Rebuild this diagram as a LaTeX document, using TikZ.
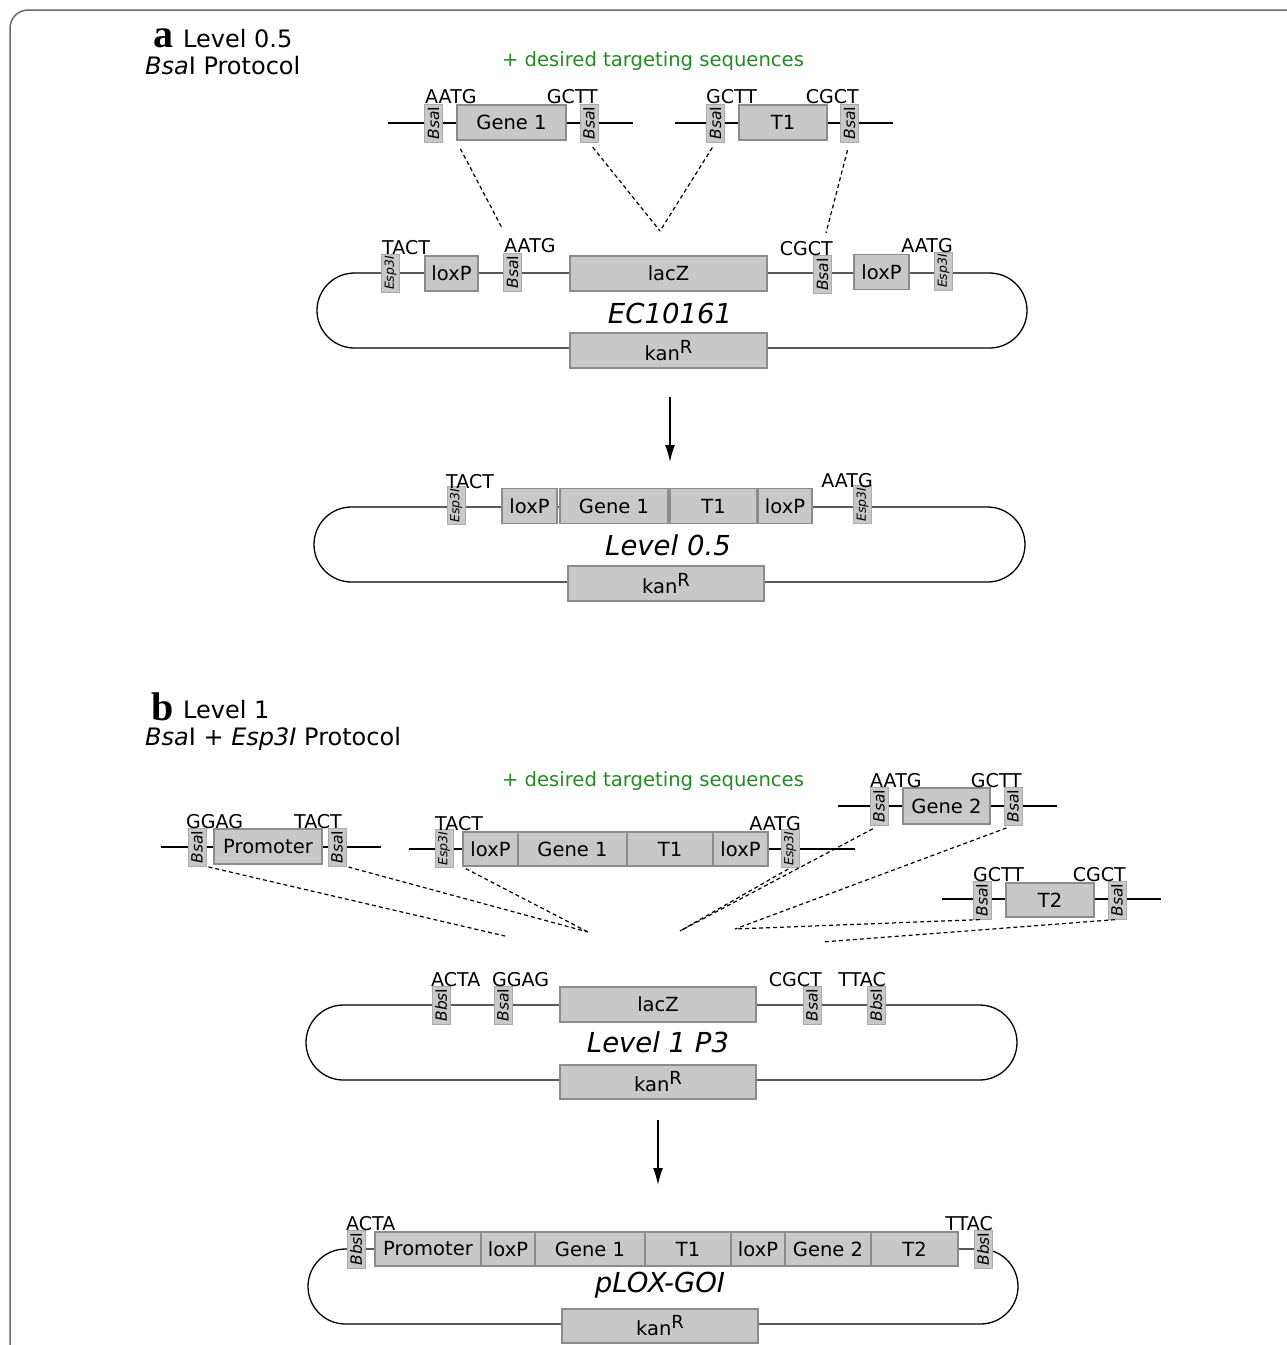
\documentclass[tikz,border=0pt]{standalone}
\usepackage{fontspec}
\setmainfont{DejaVu Sans}
\newfontfamily\panelfont{Liberation Serif}
\usetikzlibrary{arrows.meta}
\definecolor{boxfill}{HTML}{C8C8C8}
\definecolor{boxline}{HTML}{8C8C8C}
\definecolor{siteline}{HTML}{ABABAB}
\definecolor{seqgreen}{HTML}{228B22}
\definecolor{framegray}{HTML}{6A6A6A}
\tikzset{
  part/.style={draw=boxline, fill=boxfill, line width=1.6pt, minimum height=35pt, inner sep=0pt, font=\fontsize{19.5}{19.5}\selectfont},
  site/.style={draw=siteline, fill=boxfill, line width=1pt, minimum width=38pt, minimum height=18pt, inner sep=0pt, rotate=90, font=\fontsize{15.5}{15.5}\selectfont},
  espsite/.style={site, font=\fontsize{12.5}{12.5}\selectfont},
  ovh/.style={inner sep=0pt, font=\fontsize{19}{19}\selectfont},
  plname/.style={inner sep=0pt, font=\fontsize{27.5}{27.5}\selectfont\itshape},
  title/.style={inner sep=0pt, font=\fontsize{24}{24}\selectfont},
  panel/.style={inner sep=0pt, font=\fontsize{40}{40}\selectfont\panelfont\bfseries},
  greennote/.style={inner sep=0pt, seqgreen, font=\fontsize{19.6}{19.6}\selectfont},
  backbone/.style={line width=1.3pt},
  dashy/.style={line width=1.2pt, dash pattern=on 4pt off 3pt},
  pto/.style={-{Latex[length=17pt,width=10pt]}, line width=1.5pt}
}
\newcommand{\bsa}{\textit{Bsa}I}
\newcommand{\esp}{\textit{Esp3I}}
\newcommand{\bbs}{\textit{Bbs}I}
\newcommand{\kanR}{kan\raisebox{7pt}{\fontsize{18}{18}\selectfont R}}

\begin{document}
\begin{tikzpicture}[x=1pt,y=-1pt]
  \useasboundingbox (0,0) rectangle (1287,1345);
  \draw[framegray, line width=1.5pt, rounded corners=18pt] (1300,10) -- (10,10) -- (10,1360);

  %% panel a
  \node[panel, anchor=base west] (la) at (153,47) {a};
  \node[title, anchor=base west] (ta1) at (183,47) {Level 0.5};
  \node[title, anchor=base west] (ta2) at (145,74) {\bsa{} Protocol};
  \node[greennote] (ga) at (653,61) {+ desired targeting sequences};

  % fragment Gene 1
  \coordinate (f1l) at (388,123);
  \coordinate (f1r) at (633,123);
  \draw[backbone] (f1l) -- (f1r);
  \node[site] (f1s1) at (433.5,123) {\bsa};
  \node[part, minimum width=109pt] (f1g) at (511.5,122.5) {Gene 1};
  \node[site] (f1s2) at (589,123) {\bsa};
  \node[ovh, anchor=base west] (f1o1) at (425,103) {AATG};
  \node[ovh, anchor=base east] (f1o2) at (598,103) {GCTT};

  % fragment T1
  \coordinate (f2l) at (675,123);
  \coordinate (f2r) at (893,123);
  \draw[backbone] (f2l) -- (f2r);
  \node[site] (f2s1) at (715.5,123) {\bsa};
  \node[part, minimum width=88pt] (f2t) at (783,122.5) {T1};
  \node[site] (f2s2) at (849.5,123) {\bsa};
  \node[ovh, anchor=base west] (f2o1) at (706,103) {GCTT};
  \node[ovh, anchor=base east] (f2o2) at (859,103) {CGCT};

  % EC10161
  \coordinate (p1a) at (317,273);
  \coordinate (p1b) at (1027,348);
  \draw[backbone, rounded corners=37.5pt] (p1a) rectangle (p1b);
  \node[espsite] (p1e1) at (390.5,273) {\esp};
  \node[part, minimum width=53pt] (p1x1) at (451.5,273.5) {loxP};
  \node[site] (p1s1) at (512.5,272) {\bsa};
  \node[part, minimum width=197pt] (p1z) at (668.5,273.5) {lacZ};
  \node[site] (p1s2) at (822.5,274.5) {\bsa};
  \node[part, minimum width=55pt] (p1x2) at (881.5,272) {loxP};
  \node[espsite] (p1e2) at (943.5,271) {\esp};
  \node[ovh, anchor=base west] (p1o1) at (382,254) {TACT};
  \node[ovh, anchor=base west] (p1o2) at (504,252) {AATG};
  \node[ovh, anchor=base east] (p1o3) at (833,255) {CGCT};
  \node[ovh, anchor=base east] (p1o4) at (953,252) {AATG};
  \node[plname] (p1n) at (670,313) {EC10161};
  \node[part, minimum width=197pt] (p1k) at (668.5,350.5) {\kanR};

  \coordinate (da1) at (502,228);
  \coordinate (da2) at (660,231);
  \coordinate (da3) at (826,233);
  \draw[dashy, shorten <=9pt] (f1g.south west) -- (da1);
  \draw[dashy, shorten <=6pt] (f1s2.west) -- (da2);
  \draw[dashy, shorten <=6pt] (f2s1.west) -- (da2);
  \draw[dashy, shorten <=8pt] (f2s2.west) -- (da3);

  \coordinate (arA1) at (670,397);
  \coordinate (arA2) at (670,462);
  \draw[pto] (arA1) -- (arA2);

  % Level 0.5
  \coordinate (p2a) at (314,507);
  \coordinate (p2b) at (1025,582);
  \draw[backbone, rounded corners=37.5pt] (p2a) rectangle (p2b);
  \node[espsite] (p2e1) at (456,505.5) {\esp};
  \node[part, minimum width=55pt] (p2x1) at (529.5,506) {loxP};
  \node[part, minimum width=108pt] (p2g) at (614,506) {Gene 1};
  \node[part, minimum width=87pt] (p2t) at (713.5,506) {T1};
  \node[part, minimum width=54pt] (p2x2) at (785,506) {loxP};
  \node[espsite] (p2e2) at (862.5,504.5) {\esp};
  \node[ovh, anchor=base west] (p2o1) at (446,488) {TACT};
  \node[ovh, anchor=base east] (p2o2) at (873,487) {AATG};
  \node[plname] (p2n) at (668,545) {Level 0.5};
  \node[part, minimum width=196pt] (p2k) at (666,583.5) {\kanR};

  %% panel b
  \node[panel, anchor=base west] (lb) at (151,720) {b};
  \node[title, anchor=base west] (tb1) at (183,718) {Level 1};
  \node[title, anchor=base west] (tb2) at (145,745) {\bsa{} + \textit{Esp3I} Protocol};
  \node[greennote] (gb) at (653,781) {+ desired targeting sequences};

  % fragment Promoter
  \coordinate (f3l) at (161,847);
  \coordinate (f3r) at (381,847);
  \draw[backbone] (f3l) -- (f3r);
  \node[site] (f3s1) at (197,847) {\bsa};
  \node[part, minimum width=108pt] (f3p) at (268,846.5) {Promoter};
  \node[site] (f3s2) at (337,847) {\bsa};
  \node[ovh, anchor=base west] (f3o1) at (186,828) {GGAG};
  \node[ovh, anchor=base east] (f3o2) at (342,828) {TACT};

  % fragment Level 0.5 insert
  \coordinate (f4l) at (409,849);
  \coordinate (f4r) at (855,849);
  \draw[backbone, line width=2pt] (f4l) -- (f4r);
  \node[espsite] (f4e1) at (444,848.5) {\esp};
  \node[part, minimum width=55pt, minimum height=34pt] (f4x1) at (490.5,849) {loxP};
  \node[part, minimum width=109pt, minimum height=34pt] (f4g) at (572.5,849) {Gene 1};
  \node[part, minimum width=86pt, minimum height=34pt] (f4t) at (670,849) {T1};
  \node[part, minimum width=55pt, minimum height=34pt] (f4x2) at (740.5,849) {loxP};
  \node[espsite] (f4e2) at (790,848.5) {\esp};
  \node[ovh, anchor=base west] (f4o1) at (435,830) {TACT};
  \node[ovh, anchor=base east] (f4o2) at (801,830) {AATG};

  % fragment Gene 2
  \coordinate (f5l) at (838,806);
  \coordinate (f5r) at (1057,806);
  \draw[backbone] (f5l) -- (f5r);
  \node[site] (f5s1) at (879,806) {\bsa};
  \node[part, minimum width=87pt, minimum height=36pt] (f5g) at (946.5,806) {Gene 2};
  \node[site] (f5s2) at (1013,806) {\bsa};
  \node[ovh, anchor=base west] (f5o1) at (870,787) {AATG};
  \node[ovh, anchor=base east] (f5o2) at (1022,787) {GCTT};

  % fragment T2
  \coordinate (f6l) at (942,899);
  \coordinate (f6r) at (1161,899);
  \draw[backbone] (f6l) -- (f6r);
  \node[site] (f6s1) at (982,900) {\bsa};
  \node[part, minimum width=88pt, minimum height=34pt] (f6t) at (1050,900) {T2};
  \node[site] (f6s2) at (1117,900) {\bsa};
  \node[ovh, anchor=base west] (f6o1) at (973,881) {GCTT};
  \node[ovh, anchor=base east] (f6o2) at (1126,881) {CGCT};

  \coordinate (db1) at (505,936);
  \coordinate (db2) at (588,932);
  \coordinate (db3) at (680,931);
  \coordinate (db4) at (735,929);
  \coordinate (db5) at (822,942);
  \draw[dashy, shorten <=2pt] (f3s1.south west) -- (db1);
  \draw[dashy, shorten <=2pt] (f3s2.south west) -- (db2);
  \draw[dashy, shorten <=4pt] (f4x1.south west) -- (db2);
  \draw[dashy, shorten <=2pt] (f4e2.west) -- (db3);
  \draw[dashy, shorten <=7pt] (f5s1.west) -- (db3);
  \draw[dashy, shorten <=7pt] (f5s2.west) -- (db4);
  \draw[dashy, shorten <=2pt] (f6s1.west) -- (db4);
  \draw[dashy, shorten <=2pt] (f6s2.west) -- (db5);

  % Level 1 P3
  \coordinate (p3a) at (306,1005);
  \coordinate (p3b) at (1017,1080);
  \draw[backbone, rounded corners=37.5pt] (p3a) rectangle (p3b);
  \node[site] (p3b1) at (441,1005) {\bbs};
  \node[site] (p3s1) at (503,1005) {\bsa};
  \node[part, minimum width=196pt] (p3z) at (658,1004.5) {lacZ};
  \node[site] (p3s2) at (812,1005) {\bsa};
  \node[site] (p3b2) at (876,1005) {\bbs};
  \node[ovh, anchor=base west] (p3o1) at (431,986) {ACTA};
  \node[ovh, anchor=base west] (p3o2) at (492,986) {GGAG};
  \node[ovh, anchor=base east] (p3o3) at (822,986) {CGCT};
  \node[ovh, anchor=base east] (p3o4) at (886,986) {TTAC};
  \node[plname] (p3n) at (658,1042) {Level 1 P3};
  \node[part, minimum width=196pt, minimum height=34pt] (p3k) at (658,1082) {\kanR};

  \coordinate (arB1) at (658,1120);
  \coordinate (arB2) at (658,1185);
  \draw[pto] (arB1) -- (arB2);

  % pLOX-GOI
  \coordinate (p4a) at (308,1249);
  \coordinate (p4b) at (1018,1324);
  \draw[backbone, rounded corners=37.5pt] (p4a) rectangle (p4b);
  \node[site] (p4b1) at (356,1249) {\bbs};
  \node[part, minimum width=106pt, minimum height=34pt] (p4p) at (428,1249) {Promoter};
  \node[part, minimum width=54pt, minimum height=34pt] (p4x1) at (508,1249) {loxP};
  \node[part, minimum width=110pt, minimum height=34pt] (p4g1) at (590,1249) {Gene 1};
  \node[part, minimum width=86pt, minimum height=34pt] (p4t1) at (688,1249) {T1};
  \node[part, minimum width=54pt, minimum height=34pt] (p4x2) at (758,1249) {loxP};
  \node[part, minimum width=86pt, minimum height=34pt] (p4g2) at (828,1249) {Gene 2};
  \node[part, minimum width=87pt, minimum height=34pt] (p4t2) at (914.5,1249) {T2};
  \node[site] (p4b2) at (983,1249) {\bbs};
  \node[ovh, anchor=base west] (p4o1) at (346,1230) {ACTA};
  \node[ovh, anchor=base east] (p4o2) at (993,1230) {TTAC};
  \node[plname] (p4n) at (660,1285) {pLOX-GOI};
  \node[part, minimum width=196pt, minimum height=34pt] (p4k) at (660,1326) {\kanR};
\end{tikzpicture}
\end{document}
